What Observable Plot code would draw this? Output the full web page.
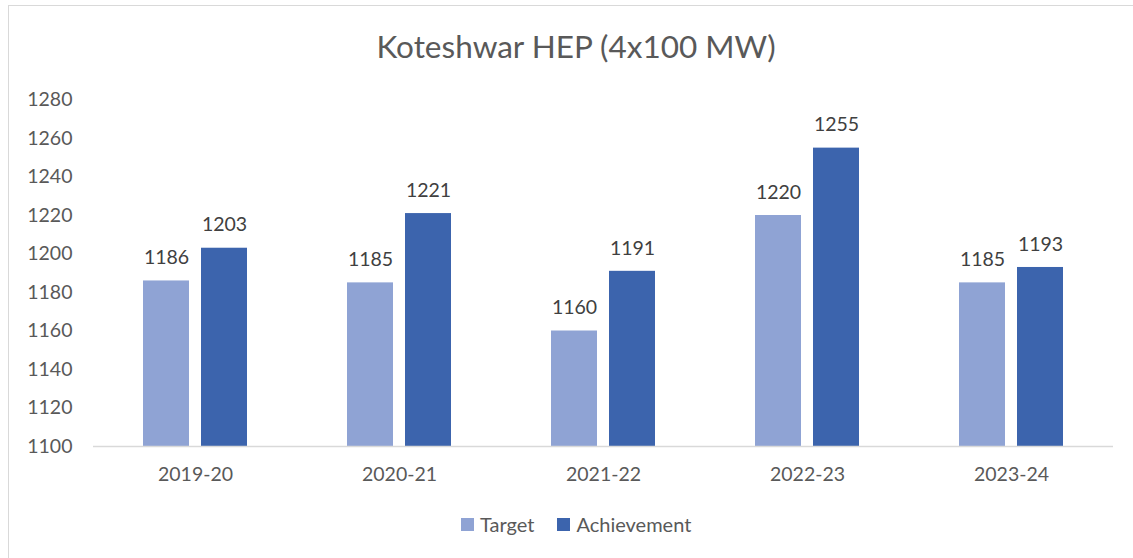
<!DOCTYPE html>
<html>
<head>
<meta charset="utf-8">
<script src="https://cdn.jsdelivr.net/npm/d3@7"></script>
<script src="https://cdn.jsdelivr.net/npm/@observablehq/plot@0.6"></script>
<style>
  html, body { margin: 0; padding: 0; background: #fff; overflow: hidden; }
  #wrap { position: relative; width: 1133px; height: 558px; overflow: hidden; font-family: Lato, "Open Sans", sans-serif; }
  #frame { position: absolute; left: 8px; top: 5px; width: 1136px; height: 570px; border: 1px solid #d9d9d9; box-sizing: border-box; }
  #title { position: absolute; left: 8px; width: 1136px; top: 28px; text-align: center; font-size: 31.5px; color: #595959; line-height: 36px; }
  #chart { position: absolute; left: 0; top: 0; }
  #legend { position: absolute; left: 461px; top: 512px; display: flex; gap: 23px; font-size: 20px; color: #595959; }
  #legend .item { display: flex; align-items: center; gap: 6px; }
  #legend .sw { width: 13px; height: 13px; display: inline-block; }
</style>
</head>
<body>
<div id="wrap">
  <div id="frame"></div>
  <div id="title"></div>
  <div id="chart"></div>
  <div id="legend"></div>
</div>
<script>
const titleText = "Koteshwar HEP (4x100 MW)";
const years = ["2019-20", "2020-21", "2021-22", "2022-23", "2023-24"];
const seriesNames = ["Target", "Achievement"];
const target = [1186, 1185, 1160, 1220, 1185];
const achievement = [1203, 1221, 1191, 1255, 1193];
const yTicks = [1100, 1120, 1140, 1160, 1180, 1200, 1220, 1240, 1260, 1280];
const colors = ["#8FA3D4", "#3C64AD"];

const rows = [];
years.forEach((yr, i) => {
  rows.push({year: yr, series: seriesNames[0], value: target[i]});
  rows.push({year: yr, series: seriesNames[1], value: achievement[i]});
});
const yMin = yTicks[0];
const yMax = yTicks[yTicks.length - 1];

document.getElementById("title").textContent = titleText;

const chart = Plot.plot({
  width: 1133,
  height: 490,
  marginLeft: 91,
  marginRight: 18,
  marginTop: 99.5,
  marginBottom: 44,
  style: {fontFamily: "Lato, 'Open Sans', sans-serif", fontSize: "19.5px", color: "#595959", background: "transparent"},
  fx: {domain: years, padding: 0, label: null},
  x: {domain: seriesNames, axis: null, paddingInner: 0.2137, paddingOuter: 0.857},
  y: {domain: [yMin, yMax], ticks: yTicks, label: null},
  color: {domain: seriesNames, range: colors},
  marks: [
    Plot.axisY({ticks: yTicks, tickFormat: d => String(d), tickSize: 0, tickPadding: 21, label: null, fill: "#595959", fontSize: 19.5}),
    Plot.axisFx({anchor: "bottom", tickSize: 0, tickPadding: 21, label: null, fill: "#595959", fontSize: 19.5}),
    Plot.barY(rows, {fx: "year", x: "series", y1: yMin, y2: "value", fill: "series"}),
    Plot.ruleY([yMin], {stroke: "#d9d9d9", strokeWidth: 1.5}),
    Plot.text(rows, {fx: "year", x: "series", y: "value", text: d => String(d.value), dy: -23, fill: "#404040", fontSize: 19.5})
  ]
});
document.getElementById("chart").appendChild(chart);

const legend = document.getElementById("legend");
seriesNames.forEach((name, i) => {
  const item = document.createElement("div");
  item.className = "item";
  const sw = document.createElement("span");
  sw.className = "sw";
  sw.style.background = colors[i];
  const lab = document.createElement("span");
  lab.textContent = name;
  item.appendChild(sw);
  item.appendChild(lab);
  legend.appendChild(item);
});
</script>
</body>
</html>
